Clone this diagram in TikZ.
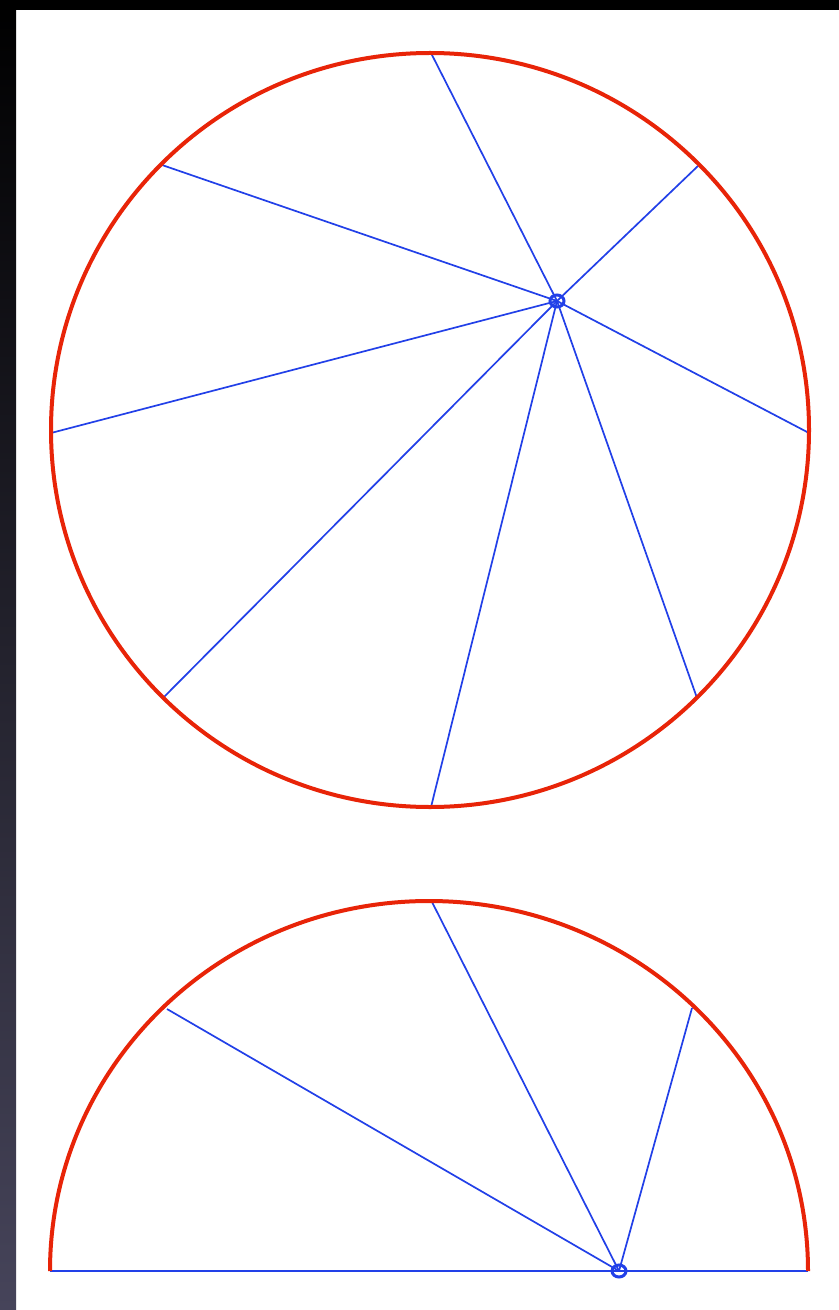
\documentclass[tikz,border=0pt]{standalone}
\begin{document}
\begin{tikzpicture}[x=0.5pt,y=-0.5pt,
  rim/.style={draw=rimred,line width=2pt},
  ray/.style={draw=rayblue,line width=0.85pt},
  hub/.style={draw=rayblue,line width=1.5pt}]
\definecolor{rimred}{RGB}{232,36,8}
\definecolor{rayblue}{RGB}{34,64,232}
\definecolor{strip}{RGB}{70,68,90}
\useasboundingbox (0,0) rectangle (839,1310);
\fill[white] (0,0) rectangle (839,1310);
\shade[top color=black,bottom color=strip] (0,0) rectangle (16,1310);
\fill[black] (0,0) rectangle (839,10);
% full circle
\coordinate (C) at (430,430);
\coordinate (P) at (557,301);
\coordinate (a1) at (431,53);
\coordinate (a2) at (162,165);
\coordinate (a3) at (699,165);
\coordinate (a4) at (51,433);
\coordinate (a5) at (809,433);
\coordinate (a6) at (163,698);
\coordinate (a7) at (697,698);
\coordinate (a8) at (431,807);
\foreach \e in {a1,a2,a3,a4,a5,a6,a7,a8} \draw[ray] (P) -- (\e);
\draw[rim] (C) circle[x radius=379, y radius=377];
\draw[hub] (P) circle[x radius=7, y radius=6];
% half circle
\coordinate (L) at (50,1271);
\coordinate (R) at (808,1271);
\coordinate (Q) at (619,1271);
\coordinate (b1) at (432,902);
\coordinate (b2) at (167,1009);
\coordinate (b3) at (692,1008);
\draw[ray] (L) -- (R);
\foreach \e in {b1,b2,b3} \draw[ray] (Q) -- (\e);
\draw[rim] (L) arc[start angle=180,end angle=360,x radius=379,y radius=370];
\draw[hub] (Q) circle[x radius=7, y radius=6];
\end{tikzpicture}
\end{document}
